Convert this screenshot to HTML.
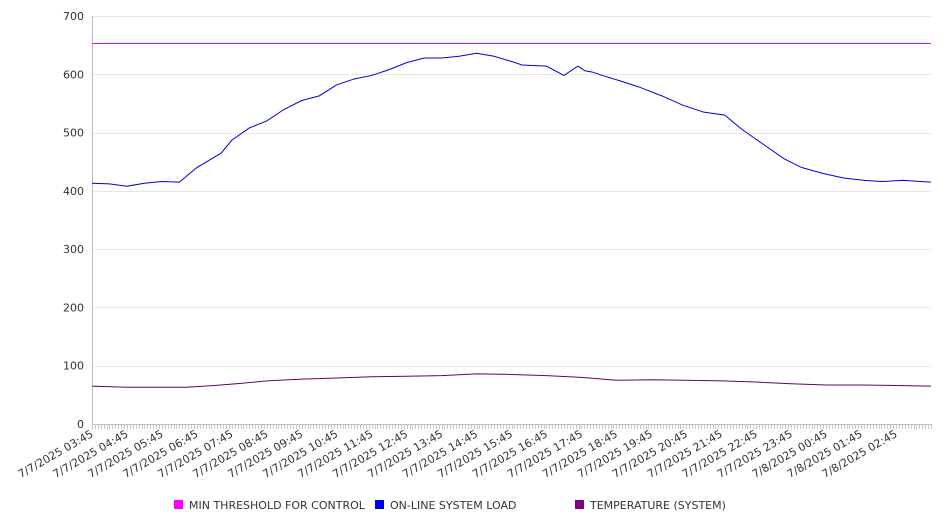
<!DOCTYPE html>
<html><head><meta charset="utf-8">
<style>
body{margin:0;background:#fff;font-family:"DejaVu Sans","Liberation Sans",sans-serif;}
svg text{font-family:"DejaVu Sans","Liberation Sans",sans-serif;}
</style></head>
<body>
<svg id="chart" width="946" height="526" xmlns="http://www.w3.org/2000/svg">
<g id="grid"></g>
<g id="axes"></g>
<g id="series"></g>
<g font-size="11" fill="#333">
 <g><rect x="174" y="500" width="9" height="9" fill="#ff00ff"/><text x="189" y="509">MIN THRESHOLD FOR CONTROL</text></g>
 <g><rect x="375" y="500" width="9" height="9" fill="#0000ee"/><text x="390" y="509">ON-LINE SYSTEM LOAD</text></g>
 <g><rect x="575" y="500" width="9" height="9" fill="#800080"/><text x="590" y="509">TEMPERATURE (SYSTEM)</text></g>
</g>
</svg>
<script>
const xLabels=["7/7/2025 03:45","7/7/2025 04:45","7/7/2025 05:45","7/7/2025 06:45","7/7/2025 07:45","7/7/2025 08:45","7/7/2025 09:45","7/7/2025 10:45","7/7/2025 11:45","7/7/2025 12:45","7/7/2025 13:45","7/7/2025 14:45","7/7/2025 15:45","7/7/2025 16:45","7/7/2025 17:45","7/7/2025 18:45","7/7/2025 19:45","7/7/2025 20:45","7/7/2025 21:45","7/7/2025 22:45","7/7/2025 23:45","7/8/2025 00:45","7/8/2025 01:45","7/8/2025 02:45"];
const yTicks=[0,100,200,300,400,500,600,700];
const loadHours=[0,0.5,1,1.5,2,2.5,2.7,3,3.2,3.7,4,4.5,5,5.5,6,6.5,7,7.5,8,8.5,9,9.5,10,10.5,11,11.5,12,12.3,12.6,13,13.5,13.9,14,14.1,14.3,14.6,15.2,15.7,16.3,16.9,17.5,18.1,18.6,19.2,19.8,20.3,20.9,21.5,22.1,22.6,23.2,23.7,24];
const loadValues=[413,412,408,413,416,415,425,440,447,465,487,508,520,540,555,563,582,592,598,608,620,628,628,631,636,631,622,616,615,614,598,614,610,606,604,598,587,577,563,547,535,530,505,480,455,440,430,422,418,416,418,416,415];
const tempHours=[0,1,2,2.7,3.5,4.3,5,6,7,8,9,10,11,12,13,14,15,16,17,18,19,20,21,22,23,24];
const tempValues=[65,63,63,63,66,70,74,77,79,81,82,83,86,85,83,80,75,76,75,74,72,69,67,67,66,65];
const thresholdValue=653;

const X0=92,X1=931,Y0=424,Y1=16,HOURS=24;
const xs=h=>X0+(X1-X0)*h/HOURS;
const ys=v=>Y0-(Y0-Y1)*v/700;
const NS="http://www.w3.org/2000/svg";
function mk(tag,parent,attrs){const e=document.createElementNS(NS,tag);for(const k in attrs)e.setAttribute(k,attrs[k]);parent.appendChild(e);return e;}
const grid=document.getElementById('grid'),axes=document.getElementById('axes'),series=document.getElementById('series');
yTicks.forEach(v=>{
 const yy=Math.round(ys(v))+0.5;
 const l=mk('line',grid,{x1:X0,x2:X1,y1:yy,y2:yy,stroke:v===0?'#bbb':'#e6e6e6','stroke-width':1,'shape-rendering':'crispEdges'});
 
 
 const t=mk('text',axes,{x:X0-8,y:ys(v)+4,'text-anchor':'end','font-size':11,fill:'#333'});
 t.textContent=v;
 
 
});
const ya=mk('line',axes,{x1:X0+0.5,x2:X0+0.5,y1:Y1,y2:Y0,stroke:'#bbb','shape-rendering':'crispEdges'});


for(let i=0;i<=HOURS*12;i++){
 const x=Math.round(xs(i/12))+0.5;
 const tk=mk('line',axes,{x1:x,x2:x,y1:Y0,y2:Y0+5,stroke:'#c8c8c8','shape-rendering':'crispEdges'});
 
 
}
xLabels.forEach((s,i)=>{
 const x=xs(i)+2,y=Y0+12;
 const t=mk('text',axes,{x:x,y:y,'text-anchor':'end','font-size':11,fill:'#333',transform:`rotate(-30 ${x} ${y})`});
 t.textContent=s;
 
 
});
const thy=Math.round(ys(thresholdValue))+0.5;
const th=mk('line',series,{x1:X0,x2:X1,y1:thy,y2:thy,stroke:'#ff00ff','stroke-width':1,'shape-rendering':'crispEdges'});


const lp=mk('polyline',series,{points:loadHours.map((h,i)=>xs(h)+','+ys(loadValues[i])).join(' '),fill:'none',stroke:'#0000dd','stroke-width':1});


const tp=mk('polyline',series,{points:tempHours.map((h,i)=>xs(h)+','+ys(tempValues[i])).join(' '),fill:'none',stroke:'#660066','stroke-width':1});


</script>
</body></html>
